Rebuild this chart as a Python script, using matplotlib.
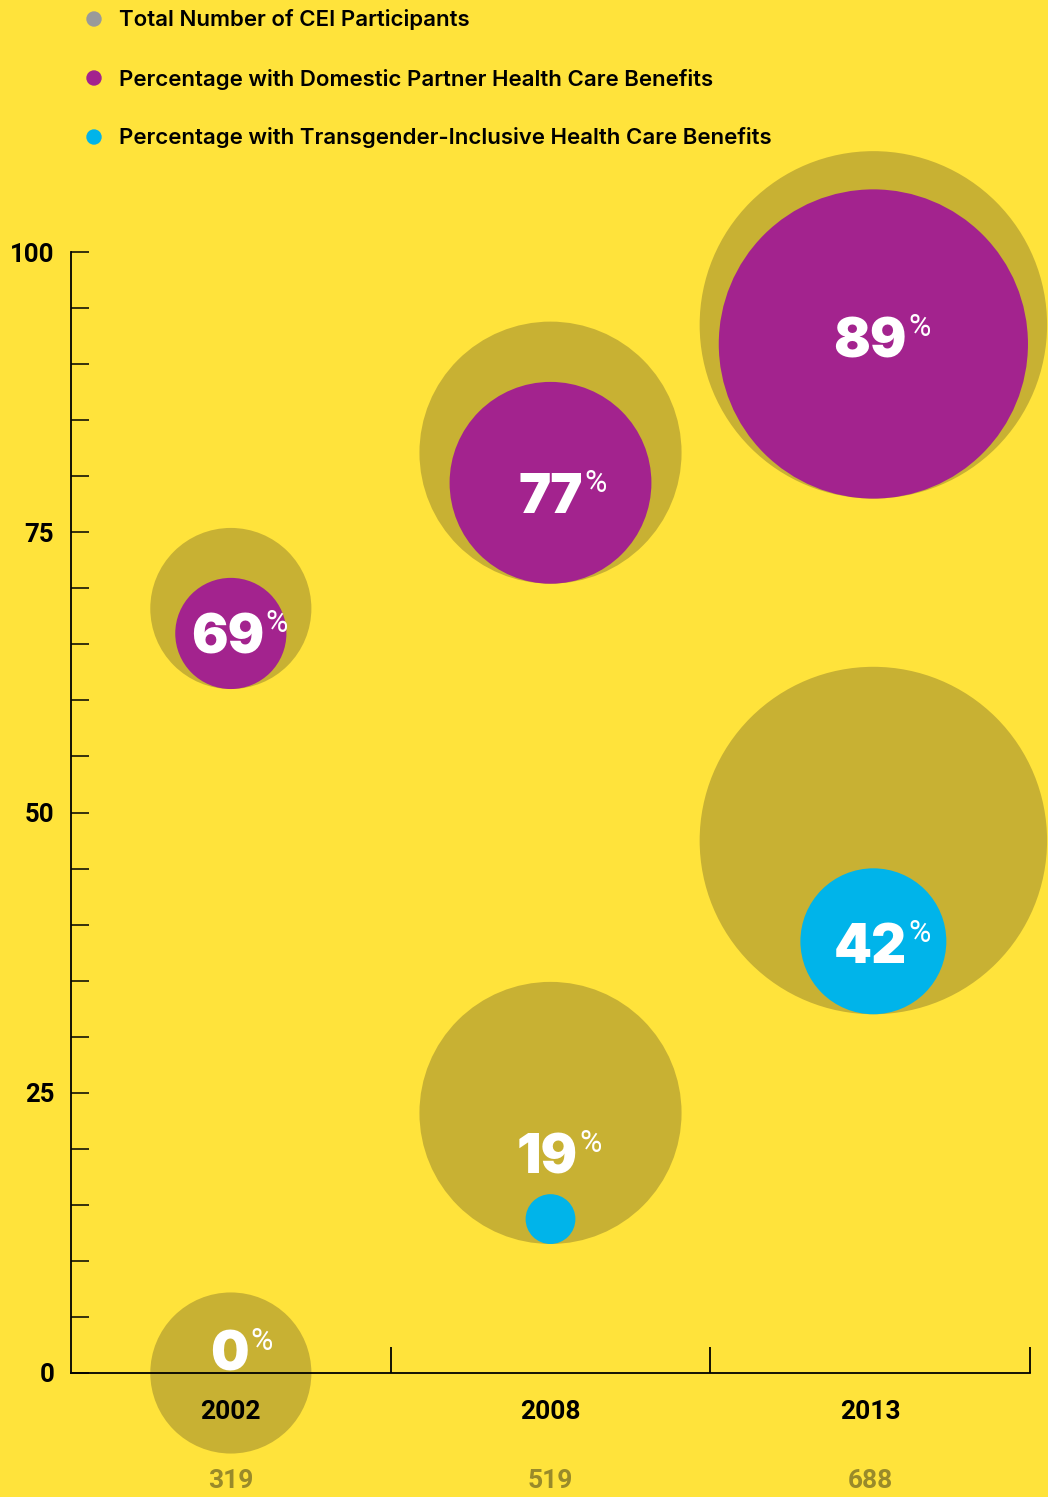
import matplotlib
matplotlib.use("Agg")
import matplotlib.pyplot as plt
from matplotlib.patches import Circle
import numpy as np

plt.rcParams['font.family'] = ['Inter', 'DejaVu Sans']

# ---------------- data ----------------
years = ["2002", "2008", "2013"]
total_participants = [319, 519, 688]
domestic_pct = [69, 77, 89]
transgender_pct = [0, 19, 42]
# y-position (0-100 scale) of the grey "total" bubble behind each series
domestic_bubble_y = [68.2, 82.1, 93.5]
transgender_bubble_y = [0.0, 23.2, 47.5]
y_ticks = [0, 25, 50, 75, 100]

legend_labels = ["Total Number of CEI Participants",
                 "Percentage with Domestic Partner Health Care Benefits",
                 "Percentage with Transgender-Inclusive Health Care Benefits"]

# ---------------- style ----------------
BG = "#FFE33B"
GREY_BUBBLE = "#C8B133"
GREY_LEGEND = "#9A9A9A"
PURPLE = "#A3238E"
CYAN = "#00B4EA"
TOTAL_TXT = "#998A2A"
SANS = ['Roboto', 'DejaVu Sans']

W, H, DPI = 1048, 1497, 100
fig = plt.figure(figsize=(W / DPI, H / DPI), dpi=DPI, facecolor=BG)
ax_l, ax_b, ax_w, ax_h = 71, 124, 959, 1121
ax = fig.add_axes([ax_l / W, ax_b / H, ax_w / W, ax_h / H])
ax.set_facecolor("none")
ax.set_xlim(-0.5, 2.5)
ax.set_ylim(0, 100)
px_per_unit = ax_h / 100.0

x = np.arange(len(years))
radius_px_per_total = 0.2525  # bubble radius (px) per participant


def s_from_radius(r_px):
    r_pt = r_px * 72.0 / DPI
    return (2 * r_pt) ** 2


R_total = np.array(total_participants) * radius_px_per_total
x_shift = np.array([0.0, 0.0, 0.01])  # slight horizontal offset of the 2013 bubbles
xb = x + x_shift

# grey total bubbles
for yy in (domestic_bubble_y, transgender_bubble_y):
    ax.scatter(xb, yy, s=s_from_radius(R_total), color=GREY_BUBBLE,
               edgecolors="none", zorder=2, clip_on=False)

# inner bubbles, bottom-aligned inside the grey bubble
for pct, by, col in ((domestic_pct, domestic_bubble_y, PURPLE),
                     (transgender_pct, transgender_bubble_y, CYAN)):
    r_in = R_total * np.array(pct) / 100.0
    cy = np.array(by) - (R_total - r_in) / px_per_unit
    mask = np.array(pct) > 0
    ax.scatter(xb[mask], cy[mask], s=s_from_radius(r_in[mask]), color=col,
               edgecolors="none", zorder=3, clip_on=False)

# percentage labels (baseline y positions)
dom_label_y = [64.2, 76.7, 90.6]
tr_label_y = [0.2, 17.8, 36.6]
dom_label_dx = [-0.01, 0.0, 0.0]
tr_label_dx = [-0.005, -0.01, 0.0]


def pct_label(xp, yp, val):
    t = ax.text(xp, yp, f"{val}", ha="center", va="baseline", color="white",
                fontsize=39, fontweight="black", zorder=5, clip_on=False)
    ax.annotate("%", xy=(1, 1), xycoords=t, xytext=(1, 3),
                textcoords="offset points", ha="left", va="top",
                color="white", fontsize=22, fontweight="normal", zorder=5,
                family=SANS)


for i in range(len(years)):
    pct_label(x[i] + dom_label_dx[i], dom_label_y[i], domestic_pct[i])
    pct_label(x[i] + tr_label_dx[i], tr_label_y[i], transgender_pct[i])

# axes styling
for sp in ("top", "right"):
    ax.spines[sp].set_visible(False)
for sp in ("left", "bottom"):
    ax.spines[sp].set_linewidth(1.3)
    ax.spines[sp].set_color("black")
    ax.spines[sp].set_zorder(4)

ax.set_yticks(y_ticks)
ax.set_yticks(np.arange(0, 101, 5), minor=True)
ax.set_yticklabels([str(v) for v in y_ticks], fontsize=18.5, fontweight="bold",
                   family=SANS)
ax.tick_params(axis="y", which="both", direction="in", length=13, width=1.1,
               pad=12, color="black")
ax.set_xticks([0.5, 1.5, 2.5])
ax.set_xticklabels([])
ax.tick_params(axis="x", which="both", direction="in", length=19, width=1.3,
               color="black")

# year + totals labels
for i in range(len(years)):
    ax.text(x[i], -3.45, years[i], ha="center", va="center", fontsize=19,
            fontweight="bold", color="black", zorder=6, clip_on=False,
            family=SANS)
    ax.text(x[i], -9.65, str(total_participants[i]), ha="center", va="center",
            fontsize=19, fontweight="bold", color=TOTAL_TXT, zorder=6,
            clip_on=False, family=SANS)

# legend
leg_colors = [GREY_LEGEND, PURPLE, CYAN]
leg_y_px = [20, 79, 138]
for lab, col, ypx in zip(legend_labels, leg_colors, leg_y_px):
    yin = (H - ypx + 1) / DPI
    fig.add_artist(Circle((94 / DPI, yin), 7 / DPI, color=col,
                          transform=fig.dpi_scale_trans))
    fig.text(119 / W, (H - ypx) / H, lab, ha="left", va="center",
             fontsize=16, fontweight="semibold", color="black")

fig.savefig("out.png", dpi=DPI, facecolor=BG)
